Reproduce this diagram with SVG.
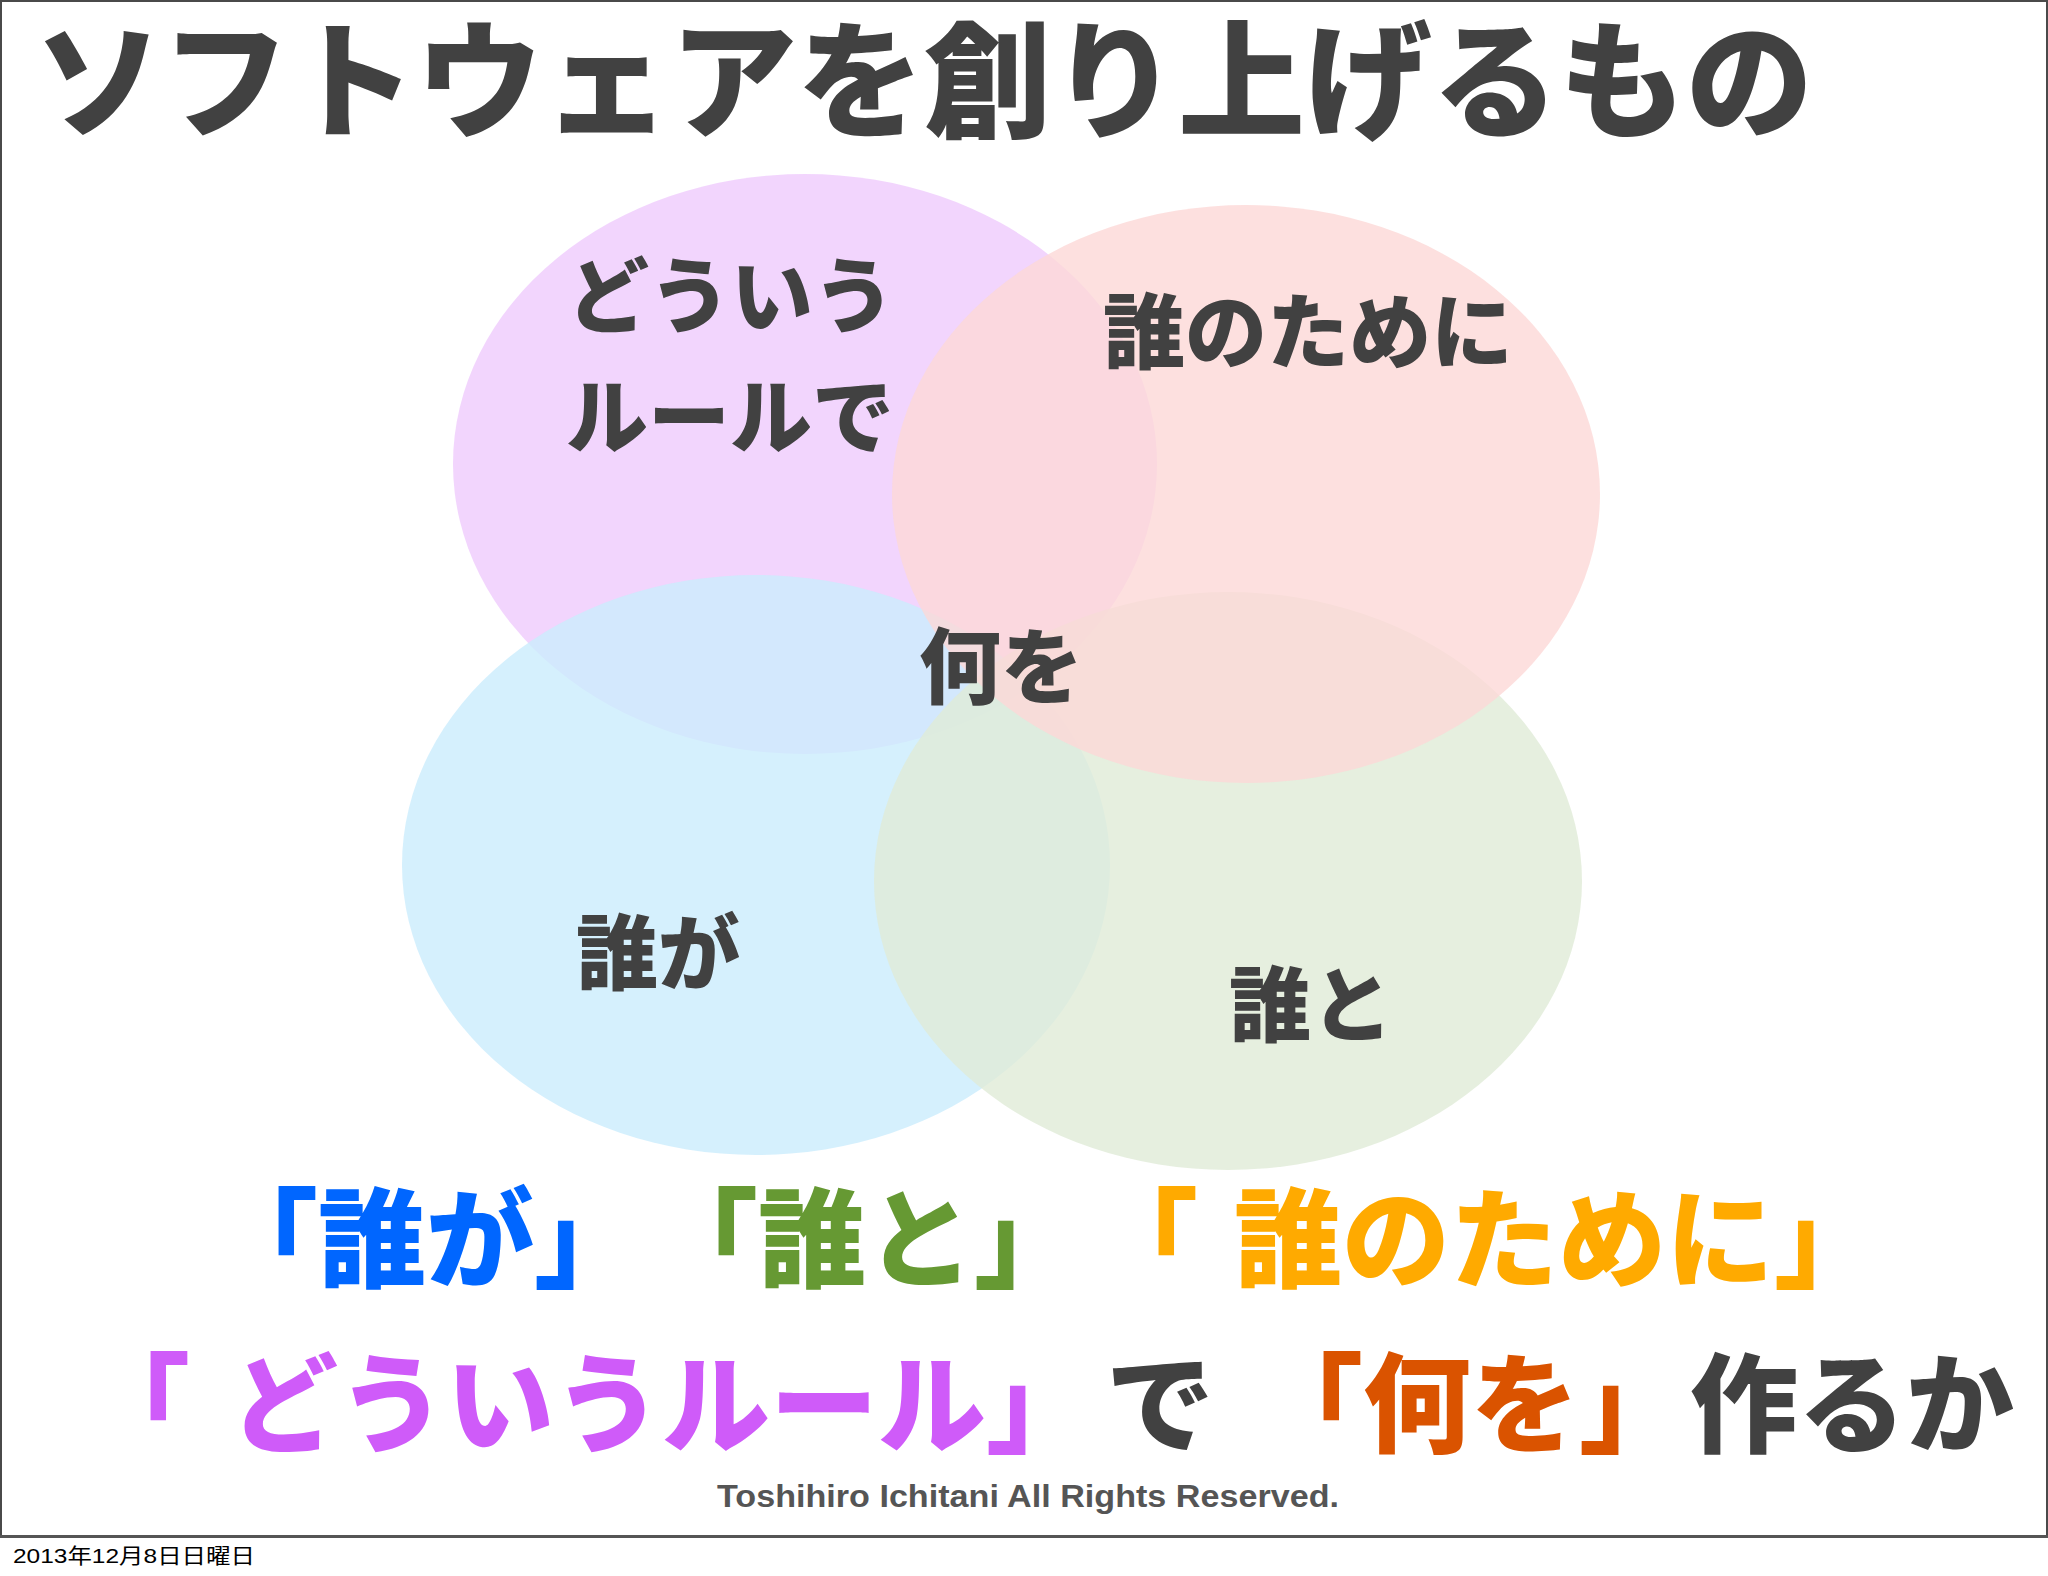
<svg xmlns="http://www.w3.org/2000/svg" width="2048" height="1576" viewBox="0 0 2048 1576">
  <style>
    .jp { font-family: "Noto Sans CJK JP", "Noto Sans CJK SC", sans-serif; font-weight: 900; }
    .dark { fill: #414141; }
    .lbl { font-size: 82px; }
    .sum { font-size: 108px; }
    .venn { fill-opacity: 0.8; }
  </style>
  <rect x="0" y="0" width="2048" height="1576" fill="#ffffff"/>
  <rect id="frame" x="1" y="1" width="2046" height="1535" fill="#ffffff" stroke="#4a4a4a" stroke-width="2"/>
  <line x1="0" y1="1536.5" x2="2048" y2="1536.5" stroke="#555555" stroke-width="3"/>

  <g id="title">
    <text class="jp dark" x="35" y="128" font-size="127">ソフトウェアを創り上げるもの</text>
  </g>

  <g id="venn">
    <ellipse id="circle-rule" class="venn" cx="805" cy="464" rx="352" ry="290" fill="rgb(239,203,253)"/>
    <ellipse id="circle-who" class="venn" cx="756" cy="865" rx="354" ry="290" fill="rgb(203,236,253)"/>
    <ellipse id="circle-with" class="venn" cx="1228" cy="881" rx="354" ry="289" fill="rgb(224,235,215)"/>
    <ellipse id="circle-for" class="venn" cx="1246" cy="494" rx="354" ry="289" fill="rgb(252,216,215)"/>
  </g>

  <g id="labels" class="jp dark lbl">
    <g id="label-rule">
      <text x="567" y="326">どういう</text>
      <text x="566" y="447">ルールで</text>
    </g>
    <g id="label-for"><text x="1103" y="362">誰のために</text></g>
    <g id="label-what"><text x="919" y="697">何を</text></g>
    <g id="label-who"><text x="576" y="983">誰が</text></g>
    <g id="label-with"><text x="1229" y="1035">誰と</text></g>
  </g>

  <g id="summary" class="jp sum">
    <g id="line1">
      <text x="210" y="1279" fill="#0066FF">「誰が」</text>
      <text x="650" y="1279" fill="#669933">「誰と」</text>
      <text x="1090" y="1279" fill="#FFAA00">「</text>
      <text x="1234" y="1279" fill="#FFAA00">誰のために」</text>
    </g>
    <g id="line2">
      <text x="82" y="1444" fill="#CF5BF9">「</text>
      <text x="230" y="1444" fill="#CF5BF9">どういうルール」</text>
      <text x="1106" y="1444" class="dark">で</text>
      <text x="1255" y="1444" fill="#DA5300">「何を」</text>
      <text x="1690" y="1444" class="dark">作るか</text>
    </g>
  </g>

  <g id="footer">
    <text x="1028" y="1507" text-anchor="middle" font-family="Liberation Sans, Arial, sans-serif" font-weight="bold" font-size="31" fill="#555555" textLength="622" lengthAdjust="spacingAndGlyphs">Toshihiro Ichitani All Rights Reserved.</text>
    <text x="13" y="1563" font-family="Liberation Sans, 'Noto Sans CJK JP', sans-serif" font-size="21" fill="#000000" textLength="242" lengthAdjust="spacingAndGlyphs">2013年12月8日日曜日</text>
  </g>
</svg>
